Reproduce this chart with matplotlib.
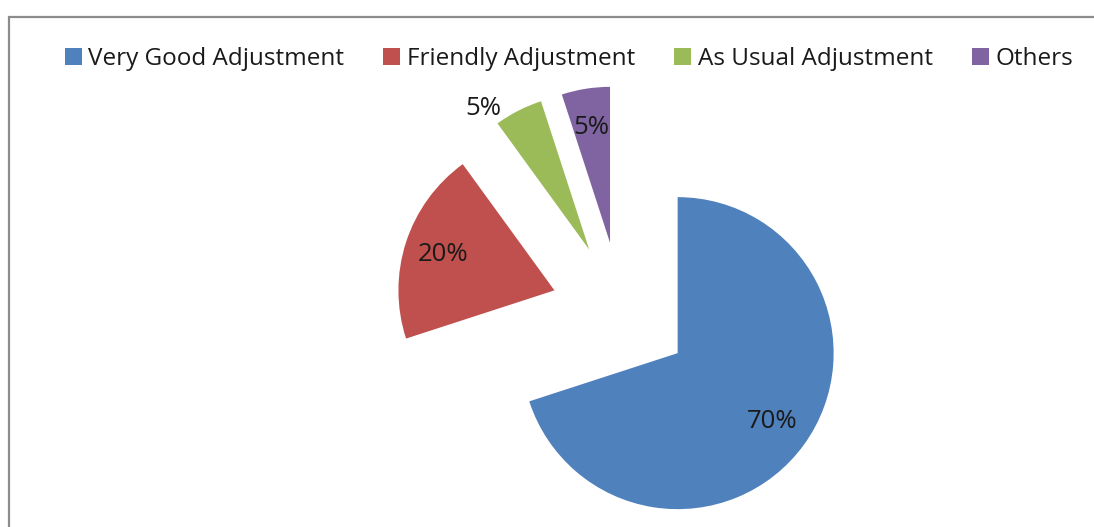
import numpy as np
import matplotlib
matplotlib.use("Agg")
import matplotlib.pyplot as plt
from matplotlib.patches import Patch, Rectangle

categories = ["Very Good Adjustment", "Friendly Adjustment", "As Usual Adjustment", "Others"]
values = [70, 20, 5, 5]
colors = ["#4F81BD", "#C0504D", "#9BBB59", "#8064A2"]

W, H = 1094, 527
plt.rcParams['font.family'] = ['Open Sans', 'DejaVu Sans']
fig = plt.figure(figsize=(W / 100, H / 100), dpi=100)
ax = fig.add_axes([0, 0, 1, 1])

R = 156
center = (621, H - 312)
explode = [70] * len(values)

wedges, texts, autotexts = ax.pie(
    values, colors=colors, explode=explode, radius=R, center=center,
    startangle=90, counterclock=False, autopct='%1.0f%%', pctdistance=0.75,
    textprops=dict(fontsize=18.5, color='#1a1a1a'), frame=True,
    wedgeprops=dict(linewidth=0))
ax.set_xlim(0, W)
ax.set_ylim(0, H)
ax.set_aspect('equal')
ax.axis('off')

# Green label placed outside its slice
w = wedges[2]
ang = np.deg2rad(0.5 * (w.theta1 + w.theta2) + 10)
cx, cy = w.center
autotexts[2].set_position((cx + 1.13 * R * np.cos(ang), cy + 1.13 * R * np.sin(ang)))

# Chart border (top and left visible)
fig.patches.append(Rectangle((9, -10), W + 20, H - 16.5 + 10, transform=None,
                             fill=False, edgecolor='#8c8c8c', linewidth=1.6))

handles = [Patch(facecolor=c, edgecolor='none') for c in colors]
leg = fig.legend(handles, categories, loc='center', bbox_to_anchor=(569 / W, 1 - 59 / H),
                 ncol=4, frameon=False, fontsize=17.5, handlelength=0.7, handleheight=0.7,
                 handletextpad=0.28, columnspacing=1.6, borderpad=0)
for t in leg.get_texts():
    t.set_color('#1a1a1a')

fig.savefig("out.png", dpi=100)
